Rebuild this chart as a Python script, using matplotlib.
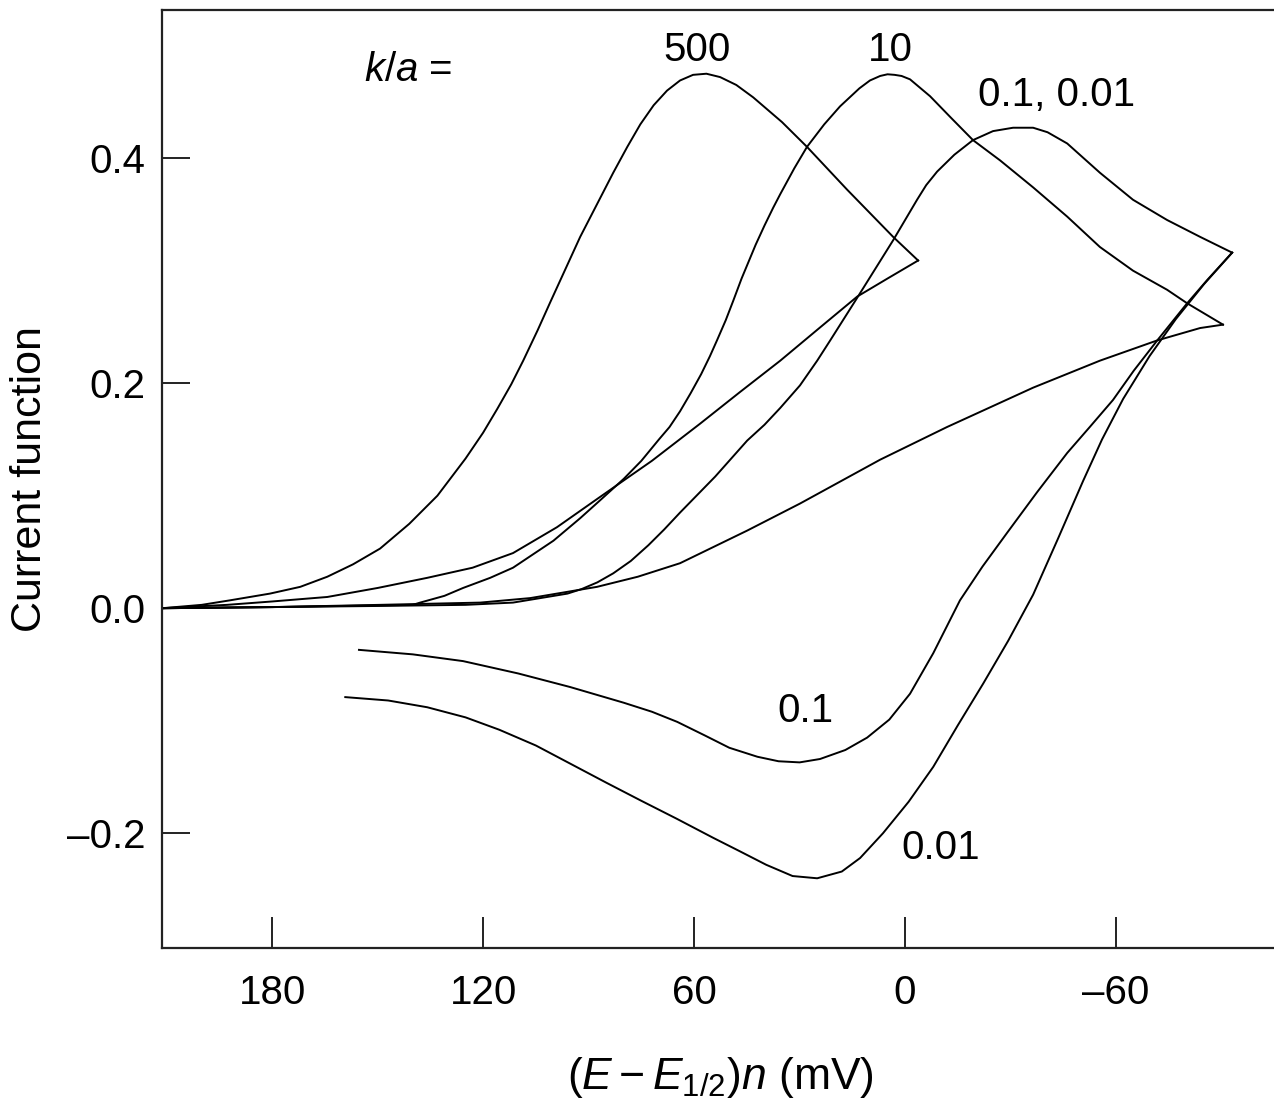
import matplotlib
matplotlib.use('Agg')
import matplotlib.pyplot as plt
from matplotlib.ticker import FuncFormatter

plt.rcParams['font.family'] = ['Liberation Sans', 'DejaVu Sans']
plt.rcParams['mathtext.fontset'] = 'custom'
plt.rcParams['mathtext.rm'] = 'Liberation Sans'
plt.rcParams['mathtext.it'] = 'Liberation Sans:italic'

# potential (E - E1/2)n in mV and current function

# k/a = 500
e_500_fwd = [211.3, 200, 192, 180.6, 172, 164.3, 157, 149.3, 141, 133, 125, 120, 116, 112, 108.6,
             104.5, 100.9, 92.4, 83.0, 79, 75.3, 71.5, 67.7, 64, 60.3, 56.5, 52.6, 48, 43.2, 35,
             27.9, 16.5, 3.4, -3.7]
i_500_fwd = [0.0, 0.003, 0.007, 0.013, 0.019, 0.028, 0.039, 0.053, 0.075, 0.100, 0.133, 0.156,
             0.177, 0.199, 0.220, 0.247, 0.272, 0.330, 0.387, 0.410, 0.430, 0.447, 0.460, 0.469,
             0.474, 0.475, 0.472, 0.465, 0.454, 0.432, 0.410, 0.372, 0.330, 0.309]
e_500_rev = [-3.7, 5, 13.6, 24, 35.5, 47, 58.3, 72, 86.7, 99, 111.5, 123, 135.9, 150, 164.3,
             180, 192.8, 211.3]
i_500_rev = [0.309, 0.293, 0.277, 0.250, 0.220, 0.192, 0.164, 0.131, 0.099, 0.072, 0.049, 0.036,
             0.027, 0.018, 0.010, 0.006, 0.003, 0.0]

# k/a = 10
e_10_fwd = [211.3, 180, 160, 140, 137.9, 131, 125.7, 118, 111.5, 100, 92.4, 86.7, 80, 75, 70,
            67, 64, 61, 58, 55.5, 53.5, 51, 48.9, 46.5, 44.9, 42.5, 40, 37.5, 35.5, 31.5, 27.9,
            23, 18.5, 13, 10, 7.1, 5, 3, 1, -1.4, -7.1, -13, -19.3, -27, -36.4, -46.1, -55.4,
            -64.8, -74.5, -80.2, -90.4]
i_10_fwd = [0.0, 0.001, 0.002, 0.003, 0.005, 0.011, 0.018, 0.027, 0.036, 0.060, 0.080, 0.096,
            0.115, 0.131, 0.150, 0.161, 0.175, 0.191, 0.208, 0.224, 0.238, 0.256, 0.273, 0.293,
            0.305, 0.323, 0.340, 0.356, 0.368, 0.391, 0.410, 0.430, 0.446, 0.462, 0.469, 0.473,
            0.4745, 0.474, 0.473, 0.470, 0.455, 0.436, 0.416, 0.398, 0.374, 0.348, 0.321, 0.300,
            0.283, 0.271, 0.252]
e_10_rev = [-90.4, -83.9, -71.7, -55.4, -36.4, -11.9, 7.1, 29.9, 44.9, 64.0, 76, 87.6, 106.6,
            120.8, 149.3, 180, 211.3]
i_10_rev = [0.252, 0.249, 0.238, 0.220, 0.196, 0.161, 0.132, 0.093, 0.069, 0.040, 0.028, 0.019,
            0.009, 0.005, 0.003, 0.001, 0.0]

# k/a = 0.1 and 0.01 share the forward sweep
e_low_fwd = [211.3, 180, 150, 125, 111.5, 101.8, 96, 92, 87.5, 83.0, 78, 73, 68.5, 64.0, 54,
             44.9, 40, 35.5, 29.9, 25, 21.3, 13.6, 8, 3.4, 0, -3.4, -6, -9.1, -14, -19.3, -25,
             -30.7, -36.4, -40.5, -46.1, -55.4, -64.8, -74.5, -83.9, -93.0]
i_low_fwd = [0.0, 0.001, 0.002, 0.003, 0.005, 0.010, 0.013, 0.017, 0.023, 0.031, 0.042, 0.056,
             0.070, 0.085, 0.117, 0.149, 0.163, 0.178, 0.198, 0.220, 0.238, 0.276, 0.304, 0.327,
             0.345, 0.363, 0.376, 0.388, 0.403, 0.416, 0.424, 0.427, 0.427, 0.423, 0.413, 0.387,
             0.363, 0.345, 0.330, 0.316]
e_01_rev = [-93.0, -86, -80.2, -71.7, -65, -59.1, -52.5, -46.1, -37.5, -29.0, -22, -15.6, -8.0,
            -1.4, 4.5, 10.8, 17, 24.2, 30, 36, 42, 50, 57, 64.8, 72, 80, 95.3, 110, 125.7, 140,
            155.3]
i_01_rev = [0.316, 0.292, 0.271, 0.238, 0.211, 0.185, 0.161, 0.138, 0.103, 0.067, 0.037, 0.007,
            -0.040, -0.076, -0.099, -0.115, -0.126, -0.134, -0.137, -0.136, -0.132, -0.124,
            -0.113, -0.101, -0.092, -0.084, -0.070, -0.058, -0.047, -0.041, -0.037]
e_001_rev = [-93.0, -85, -77, -69.5, -62.0, -56, -50.6, -43.5, -36.4, -29.3, -22.2, -15, -8.0,
             -1, 6.3, 12.8, 18, 25, 32, 39.5, 47, 54.6, 65, 75.1, 85, 95.3, 105, 115.4, 125, 135.9,
             147, 159.2]
i_001_rev = [0.316, 0.288, 0.257, 0.224, 0.186, 0.150, 0.113, 0.062, 0.012, -0.029, -0.067,
             -0.104, -0.141, -0.172, -0.200, -0.222, -0.234, -0.240, -0.238, -0.228, -0.216,
             -0.204, -0.187, -0.171, -0.155, -0.138, -0.122, -0.108, -0.097, -0.088, -0.082,
             -0.079]

x_ticks = [180, 120, 60, 0, -60]
y_ticks = [-0.2, 0.0, 0.2, 0.4]

fig = plt.figure(figsize=(12.74, 11.02), dpi=100)
ax = fig.add_axes([0.1272, 0.1397, 0.8728, 0.8512])

lw = 1.4
for e, i in [(e_500_fwd, i_500_fwd), (e_500_rev, i_500_rev), (e_10_fwd, i_10_fwd),
             (e_10_rev, i_10_rev), (e_low_fwd, i_low_fwd), (e_01_rev, i_01_rev),
             (e_001_rev, i_001_rev)]:
    ax.plot(e, i, color='black', lw=lw, solid_joinstyle='round')

ax.set_xlim(211.3, -104.9)
ax.set_ylim(-0.302, 0.5316)
ax.set_xticks(x_ticks)
ax.set_yticks(y_ticks)
ax.xaxis.set_major_formatter(FuncFormatter(lambda v, p: f'{v:.0f}'.replace('-', '\u2013')))
ax.yaxis.set_major_formatter(FuncFormatter(lambda v, p: f'{v:.1f}'.replace('-', '\u2013')))
ax.spines['right'].set_visible(False)
for s in ['left', 'top', 'bottom']:
    ax.spines[s].set_linewidth(1.6)
    ax.spines[s].set_color('#222222')
ax.tick_params(axis='x', direction='in', length=22, width=1.4, pad=19, labelsize=29, color='#222222')
ax.tick_params(axis='y', direction='in', length=20, width=1.4, pad=12, labelsize=29, color='#222222')
ax.tick_params(top=False, right=False)

ax.set_xlabel('$(E - E_{1/2})n$ (mV)', fontsize=32)
ax.xaxis.set_label_coords(0.502, -0.114)
ax.set_ylabel('Current function', fontsize=31)
ax.yaxis.set_label_coords(-0.1007, 0.5)

fs = 29
ax.text(141.3, 0.478, '$k/a$ =', fontsize=fs, ha='center', va='center')
ax.text(59.1, 0.496, '500', fontsize=fs, ha='center', va='center')
ax.text(4.3, 0.496, '10', fontsize=fs, ha='center', va='center')
ax.text(-43.2, 0.456, '0.1, 0.01', fontsize=fs, ha='center', va='center')
ax.text(28.4, -0.091, '0.1', fontsize=fs, ha='center', va='center')
ax.text(-10, -0.213, '0.01', fontsize=fs, ha='center', va='center')

plt.savefig('out.png', dpi=100)
